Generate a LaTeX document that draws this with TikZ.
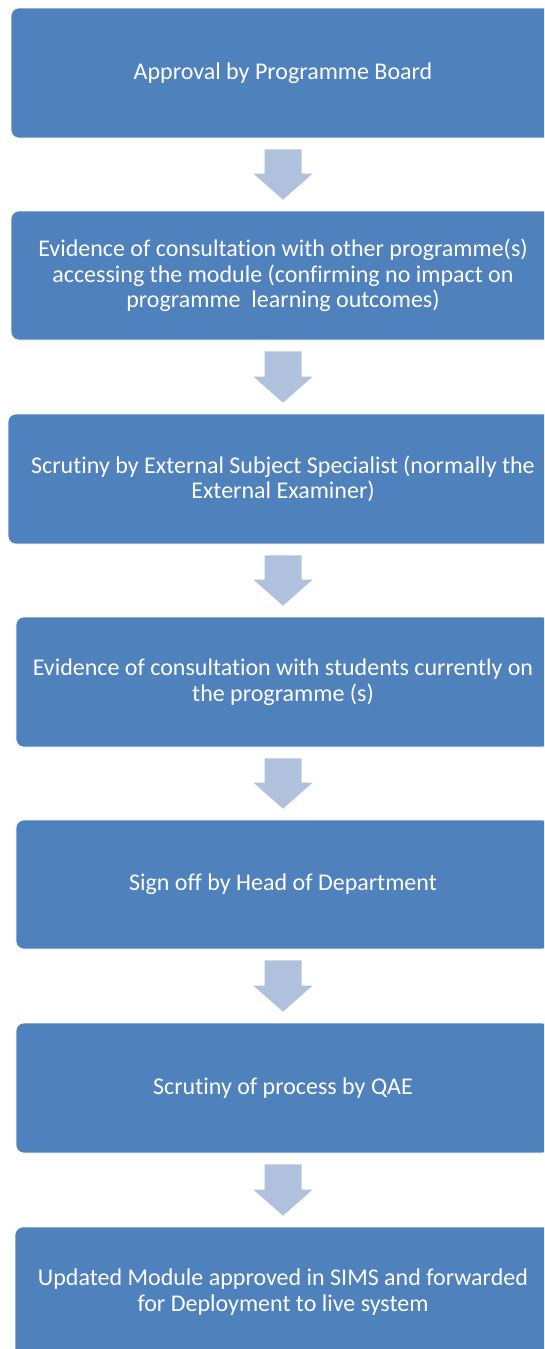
\documentclass[tikz,border=0pt]{standalone}
\usepackage{fontspec}
\setmainfont{Carlito}[Ligatures={NoCommon,NoContextual}]
\usetikzlibrary{calc}
\definecolor{boxblue}{HTML}{4F81BD}
\definecolor{arrowblue}{HTML}{B0C1DE}
\tikzset{
  stage/.style={fill=boxblue, draw=white, line width=0.6pt, rounded corners=8pt,
    text=white, align=center, font=\fontsize{24}{25.5}\selectfont,
    minimum height=130pt, inner sep=0pt},
  arrowfill/.style={fill=arrowblue}
}
\newcommand\stagearrow[2]{%
  \fill[arrowfill] ($(#1.south)+(-18.5,11)$) -- ($(#1.south)+(18.5,11)$)
    -- ($(#2.north)+(18.5,-37)$) -- ($(#2.north)+(29.5,-37)$)
    -- ($(#2.north)+(0,-11)$) -- ($(#2.north)+(-29.5,-37)$)
    -- ($(#2.north)+(-18.5,-37)$) -- cycle;}
\begin{document}
\begin{tikzpicture}[x=1pt,y=-1pt]
\useasboundingbox (0,0) rectangle (544,1349);
\clip (0,0) rectangle (544,1349);
\node[stage, minimum width=544pt] (b1) at (283,73) {Approval by Programme Board};
\node[stage, minimum width=544pt, minimum height=129pt] (b2) at (283,275.5) {Evidence of consultation with other programme(s)\\accessing the module (confirming no impact on\\programme~ learning outcomes)};
\node[stage, minimum width=550pt] (b3) at (283,479) {Scrutiny by External Subject Specialist (normally the\\External Examiner)};
\node[stage, minimum width=534pt] (b4) at (283,682) {Evidence of consultation with students currently on\\the programme (s)};
\node[stage, minimum width=534pt, minimum height=129pt] (b5) at (283,884.5) {Sign off by Head of Department};
\node[stage, minimum width=534pt] (b6) at (283,1088) {Scrutiny of process by QAE};
\node[stage, minimum width=536pt] (b7) at (283,1292) {Updated Module approved in SIMS and forwarded\\for Deployment to live system};
\stagearrow{b1}{b2}
\stagearrow{b2}{b3}
\stagearrow{b3}{b4}
\stagearrow{b4}{b5}
\stagearrow{b5}{b6}
\stagearrow{b6}{b7}
\end{tikzpicture}
\end{document}
